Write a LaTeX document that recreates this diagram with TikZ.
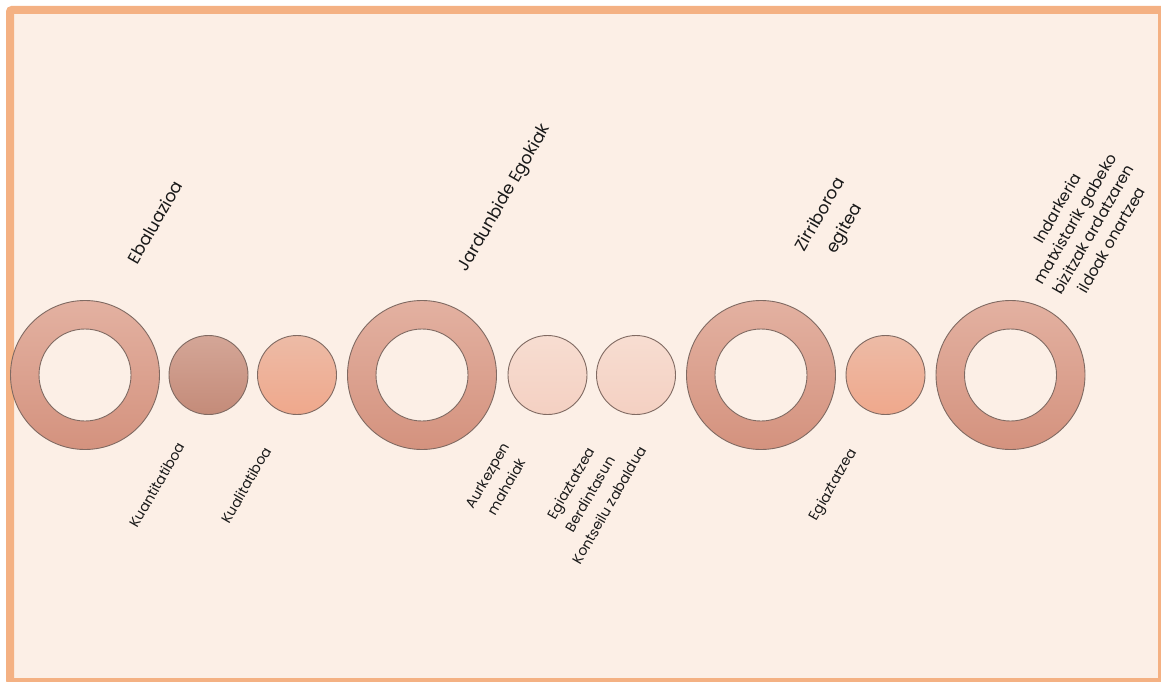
\documentclass[tikz,border=0pt]{standalone}
\usepackage{fontspec}
\setmainfont{Poppins}
\usepackage{tikz}

\definecolor{bg}{RGB}{252,239,230}
\definecolor{frame}{RGB}{244,177,131}
\definecolor{edge}{RGB}{128,106,98}
\definecolor{ringtop}{RGB}{227,177,161}
\definecolor{ringbot}{RGB}{212,146,126}
\definecolor{qtop}{RGB}{212,166,151}
\definecolor{qbot}{RGB}{196,139,121}
\definecolor{ltop}{RGB}{237,187,166}
\definecolor{lbot}{RGB}{239,168,140}
\definecolor{ptop}{RGB}{247,221,209}
\definecolor{pbot}{RGB}{244,208,194}

\begin{document}
\begin{tikzpicture}[x=1pt,y=-1pt,
    ring/.style={circle,draw=edge,line width=.9pt,inner sep=0pt,minimum size=149pt,
      top color=ringtop,bottom color=ringbot},
    hole/.style={circle,draw=edge,line width=.9pt,inner sep=0pt,minimum size=92pt,fill=bg},
    dot/.style={circle,draw=edge,line width=.9pt,inner sep=0pt,minimum size=79pt},
    headnote/.style={rotate=60,align=center,text=black!90,font=\fontsize{17}{28}\selectfont},
    lownote/.style={rotate=60,align=center,text=black!90,font=\fontsize{14}{22}\selectfont}]
    \useasboundingbox (0,0) rectangle (1161,682);
    \draw[line width=8pt,draw=frame,fill=bg,rounded corners=2pt] (10,10) rectangle (1162,682);
    % rings
    \foreach \n/\x in {1/85,2/422,3/761,4/1010.5}{
    \node[ring] (r\n) at (\x,375) {};
    \node[hole] (h\n) at (r\n) {};}
    % dots
    \node[dot,top color=qtop,bottom color=qbot] (d1) at (208.5,375) {};
    \node[dot,top color=ltop,bottom color=lbot] (d2) at (297,375) {};
    \node[dot,top color=ptop,bottom color=pbot] (d3) at (547.5,375) {};
    \node[dot,top color=ptop,bottom color=pbot] (d4) at (636,375) {};
    \node[dot,top color=ltop,bottom color=lbot] (d5) at (885.5,375) {};
    % labels
    \node[headnote] (t1) at (155,222) {Ebaluazioa};
    \node[headnote] (t2) at (505,198) {Jardunbide Egokiak};
    \node[headnote] (t3) at (833,222) {Zirriboroa\\egitea};
    \node[headnote,font=\fontsize{15.5}{21}\selectfont] (t4) at (1084,224)
      {Indarkeria\\matxistarik gabeko\\bizitzak ardatzaren\\ildoak onartzea};
    \node[lownote] (b1) at (157,485) {Kuantitatiboa};
    \node[lownote] (b2) at (246,485) {Kualitatiboa};
    \node[lownote] (b3) at (497,481) {Aurkezpen\\mahaiak};
    \node[lownote] (b4) at (590,494) {Egiaztatzea\\Berdintasun\\Kontseilu zabaldua};
    \node[lownote] (b5) at (834,485) {Egiaztatzea};
\end{tikzpicture}
\end{document}
